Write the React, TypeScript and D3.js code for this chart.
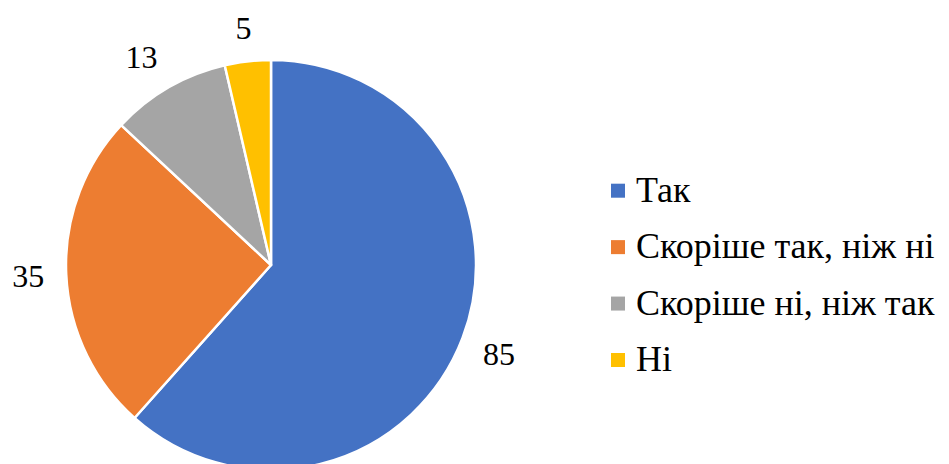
import React from "react";
import * as d3 from "d3";

const categories = ["Так", "Скоріше так, ніж ні", "Скоріше ні, ніж так", "Ні"];
const values = [85, 35, 13, 5];
const colors = ["#4472C4", "#ED7D31", "#A5A5A5", "#FFC000"];

const W = 949;
const H = 464;
const cx = 271;
const cy = 265;
const radius = 205;
const labelR = 227;
const labelFont = 32;
const legendFont = 36;
const FONT = "Liberation Serif, DejaVu Serif, Times New Roman, serif";

export default function App() {
  const pie = d3.pie<number>().sort(null).value((d) => d);
  const arcs = pie(values);
  const arc = d3.arc<d3.PieArcDatum<number>>().innerRadius(0).outerRadius(radius);

  const legendY = d3.scaleLinear().domain([0, categories.length - 1]).range([201.7, 371]);

  return (
    <svg width={W} height={H} style={{ position: "absolute", left: 0, top: 0 }}>
      <rect width={W} height={H} fill="#fff" />
      <g transform={`translate(${cx},${cy})`}>
        {arcs.map((a, i) => (
          <path key={i} d={arc(a) || ""} fill={colors[i]} stroke="#fff" strokeWidth={2.5} strokeLinejoin="round" />
        ))}
        {arcs.map((a, i) => {
          const mid = (a.startAngle + a.endAngle) / 2;
          const dx = Math.sin(mid);
          const dy = -Math.cos(mid);
          const txt = String(values[i]);
          const w = txt.length * labelFont * 0.5;
          const h = labelFont * 0.7;
          const clamp = (v: number) => Math.max(-1, Math.min(1, v));
          const x = dx * labelR + (w / 2) * clamp(dx * 2);
          const y = dy * labelR + (h / 2) * clamp(dy * 2);
          return (
            <text
              key={"l" + i}
              x={x}
              y={y}
              textAnchor="middle"
              dominantBaseline="central"
              style={{ fontFamily: FONT, fontSize: labelFont }}
              fill="#000"
            >
              {txt}
            </text>
          );
        })}
      </g>
      <g>
        {categories.map((c, i) => {
          const by = legendY(i);
          return (
            <g key={c}>
              <rect x={611} y={by - 18} width={14} height={14} fill={colors[i]} />
              <text x={636} y={by} style={{ fontFamily: FONT, fontSize: legendFont }} fill="#000">
                {c}
              </text>
            </g>
          );
        })}
      </g>
    </svg>
  );
}
